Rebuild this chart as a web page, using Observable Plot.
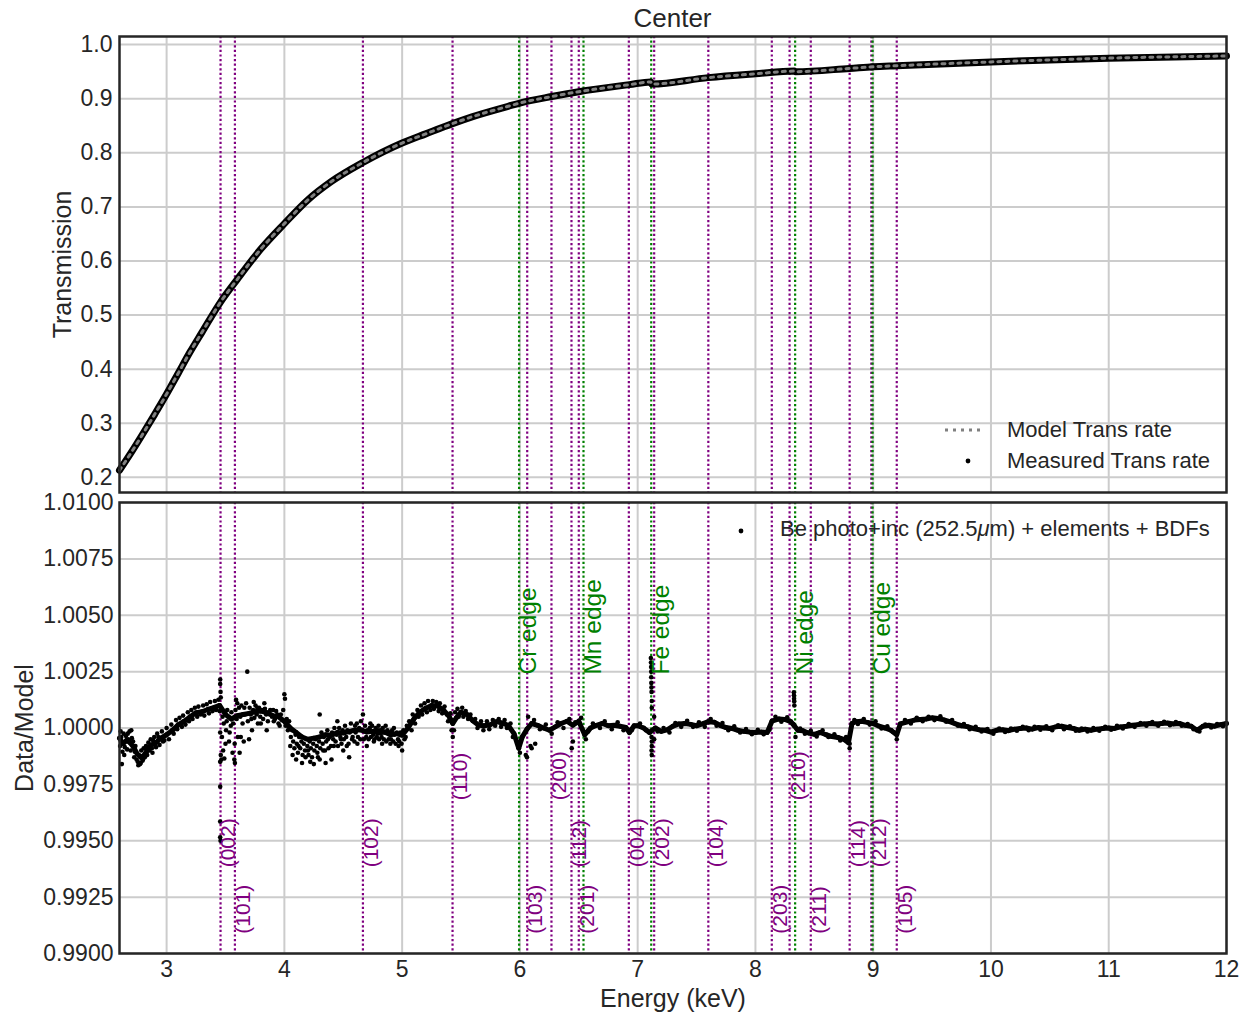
<!DOCTYPE html>
<html>
<head>
<meta charset="utf-8">
<script src="https://cdn.jsdelivr.net/npm/d3@7"></script>
<script src="https://cdn.jsdelivr.net/npm/@observablehq/plot@0.6"></script>
<style>
  html, body { margin: 0; padding: 0; background: #fff; }
  #wrap { position: relative; width: 1251px; height: 1016px; font-family: "Liberation Sans", Arial, sans-serif; color: #262626; }
  #wrap svg { display: block; }
  .ov { position: absolute; white-space: nowrap; line-height: 1; }
</style>
</head>
<body>
<div id="wrap">
  <div id="plots"></div>
  <div class="ov" id="title" style="left:0; width:1345px; top:5px; text-align:center; font-size:26px;">Center</div>
  <svg class="ov" style="left:940px; top:420px;" width="50" height="52">
    <line x1="5" x2="45" y1="10" y2="10" stroke="#808080" stroke-width="3" stroke-dasharray="3,5"></line>
    <circle cx="28" cy="41" r="2.4" fill="black"></circle>
  </svg>
  <div class="ov" style="left:1007px; top:419px; font-size:22px;">Model Trans rate</div>
  <div class="ov" style="left:1007px; top:450px; font-size:22px;">Measured Trans rate</div>
  <svg class="ov" style="left:731px; top:521px;" width="20" height="20">
    <circle cx="10" cy="10" r="2.4" fill="black"></circle>
  </svg>
  <div class="ov" style="left:780px; top:518px; font-size:22px;">Be photo+inc (252.5<i>μ</i>m) + elements + BDFs</div>
</div>
<script>
// ---------- data ----------
const xTicks = [3, 4, 5, 6, 7, 8, 9, 10, 11, 12];
const transTicks = [0.2, 0.3, 0.4, 0.5, 0.6, 0.7, 0.8, 0.9, 1.0];
const ratioTicks = [0.99, 0.9925, 0.995, 0.9975, 1.0, 1.0025, 1.005, 1.0075, 1.01];

// Transmission curve (energy keV, transmission)
const transE = [2.6, 2.7, 2.8, 2.9, 3.0, 3.1, 3.2, 3.3, 3.458, 3.6, 3.8, 4.0, 4.2, 4.4, 4.667, 5.0, 5.2, 5.428, 5.6, 5.9, 6.0, 6.27, 6.5, 6.93, 7.11, 7.12, 7.6, 8.0, 8.33, 8.34, 8.8, 9.0, 9.2, 10, 11, 12];
const transT = [0.213, 0.246, 0.281, 0.317, 0.354, 0.393, 0.432, 0.468, 0.524, 0.566, 0.622, 0.669, 0.713, 0.747, 0.782, 0.818, 0.835, 0.854, 0.867, 0.886, 0.892, 0.904, 0.913, 0.926, 0.931, 0.927, 0.939, 0.946, 0.951, 0.950, 0.956, 0.959, 0.961, 0.968, 0.975, 0.979];

// Data/Model main band
const bandPts = [
[2.60,0.99955],[2.63,0.99930],[2.66,0.99945],[2.69,0.99935],[2.72,0.99915],[2.75,0.99885],[2.78,0.99870],[2.81,0.99880],[2.84,0.99905],[2.87,0.99925],[2.90,0.99930],[2.95,0.99955],[3.00,0.99970],[3.05,0.99990],[3.10,1.00015],[3.15,1.00030],[3.20,1.00050],[3.25,1.00068],[3.30,1.00072],[3.35,1.00082],[3.40,1.00090],[3.45,1.00100],[3.50,1.00060],[3.55,1.00040],[3.60,1.00055],[3.65,1.00060],[3.70,1.00065],[3.75,1.00072],[3.80,1.00075],[3.85,1.00068],[3.90,1.00055],[3.95,1.00050],[4.00,1.00030],[4.05,1.00000],[4.10,0.99980],[4.15,0.99960],[4.20,0.99950],[4.25,0.99955],[4.30,0.99960],[4.35,0.99970],[4.40,0.99968],[4.45,0.99980],[4.50,0.99978],[4.55,0.99985],[4.60,0.99990],[4.65,0.99992],[4.70,0.99982],[4.75,0.99985],[4.80,0.99978],[4.85,0.99982],[4.90,0.99970],[4.95,0.99975],[5.00,0.99968],[5.05,1.00000],[5.10,1.00040],[5.15,1.00070],[5.20,1.00088],[5.25,1.00100],[5.30,1.00098],[5.35,1.00080],[5.40,1.00050],[5.43,1.00020],[5.46,1.00045],[5.50,1.00070],[5.55,1.00060],[5.60,1.00032],[5.65,1.00012],[5.70,1.00010],[5.75,1.00015],[5.80,1.00028],[5.85,1.00022],[5.90,1.00012],[5.95,0.99975],[5.99,0.99910],[6.02,0.99960],[6.06,0.99995],[6.10,1.00020],[6.15,1.00012],[6.20,1.00000],[6.25,0.99990],[6.30,1.00005],[6.35,1.00020],[6.40,1.00030],[6.45,1.00012],[6.50,1.00030],[6.55,0.99970],[6.60,1.00000],[6.65,1.00012],[6.70,1.00020],[6.75,1.00010],[6.80,1.00012],[6.85,1.00008],[6.90,1.00002],[6.93,0.99980],[6.97,1.00010],[7.00,1.00010],[7.05,1.00000],[7.10,0.99980],[7.15,1.00000],[7.20,0.99985],[7.25,0.99992],[7.30,1.00008],[7.35,1.00018],[7.40,1.00020],[7.45,1.00016],[7.50,1.00010],[7.55,1.00018],[7.60,1.00028],[7.65,1.00026],[7.70,1.00012],[7.75,1.00002],[7.80,0.99998],[7.85,0.99990],[7.90,0.99985],[7.95,0.99982],[8.00,0.99980],[8.05,0.99982],[8.10,0.99980],[8.14,1.00030],[8.20,1.00040],[8.25,1.00038],[8.30,1.00028],[8.33,1.00010],[8.36,0.99990],[8.40,0.99988],[8.45,0.99978],[8.50,0.99972],[8.55,0.99980],[8.60,0.99970],[8.65,0.99962],[8.70,0.99958],[8.75,0.99950],[8.79,0.99935],[8.82,1.00020],[8.85,1.00028],[8.90,1.00030],[8.95,1.00025],[9.00,1.00020],[9.05,1.00008],[9.10,1.00000],[9.15,0.99990],[9.20,0.99970],[9.23,1.00018],[9.30,1.00028],[9.35,1.00035],[9.40,1.00038],[9.45,1.00040],[9.50,1.00045],[9.55,1.00042],[9.60,1.00036],[9.65,1.00028],[9.70,1.00018],[9.75,1.00010],[9.80,1.00006],[9.85,0.99998],[9.90,0.99992],[9.95,0.99990],[10.00,0.99982],[10.05,0.99990],[10.10,0.99992],[10.15,0.99988],[10.20,0.99995],[10.25,0.99998],[10.30,1.00000],[10.35,0.99995],[10.40,1.00002],[10.45,1.00000],[10.50,0.99998],[10.55,1.00005],[10.60,1.00008],[10.65,1.00002],[10.70,0.99998],[10.75,0.99990],[10.80,0.99995],[10.85,0.99990],[10.90,0.99995],[10.95,0.99998],[11.00,1.00000],[11.05,0.99998],[11.10,1.00005],[11.15,1.00008],[11.20,1.00012],[11.25,1.00015],[11.30,1.00018],[11.35,1.00020],[11.40,1.00018],[11.45,1.00020],[11.50,1.00022],[11.55,1.00018],[11.60,1.00020],[11.65,1.00012],[11.70,1.00008],[11.75,0.99990],[11.80,1.00008],[11.85,1.00012],[11.90,1.00008],[11.95,1.00015],[12.00,1.00020]
];

// Data/Model scattered points (outliers, edge features)
const scatterPts = [
[2.61,0.99985],[2.62,0.99840],[2.64,0.99880],[2.67,0.99975],[2.70,0.99990],[2.73,0.99895],[2.76,0.99835],[2.78,0.99845],[2.80,0.99860],[2.83,0.99895],[2.88,0.99890],
[3.455,1.00215],[3.455,1.00195],[3.458,1.00160],[3.46,1.00135],[3.455,0.99980],[3.46,0.99880],[3.465,0.99860],[3.455,0.99850],[3.455,0.99740],[3.455,0.99585],[3.455,0.99515],[3.458,0.99500],[3.47,0.99960],[3.48,0.99900],[3.49,0.99865],[3.50,0.99930],[3.51,1.00030],[3.53,0.99940],[3.545,1.00010],[3.56,0.99890],
[3.575,0.99860],[3.58,0.99845],[3.578,0.99930],[3.59,1.00125],[3.60,1.00110],[3.62,0.99890],[3.63,0.99960],[3.66,1.00090],[3.685,1.00250],[3.70,0.99950],[3.72,1.00040],[3.74,1.00115],[3.77,1.00090],[3.80,1.00020],[3.83,1.00110],[3.85,0.99990],[3.88,1.00080],[3.91,1.00030],[3.93,1.00075],[3.96,1.00010],[4.00,1.00150],[4.005,1.00130],[4.02,1.00040],
[4.05,0.99920],[4.07,0.99880],[4.10,0.99860],[4.12,0.99920],[4.15,0.99845],[4.18,0.99870],[4.20,0.99900],[4.22,0.99850],[4.25,0.99840],[4.28,0.99890],[4.30,0.99860],[4.30,1.00060],[4.33,0.99900],[4.35,0.99845],[4.37,0.99950],[4.40,0.99860],[4.42,0.99920],[4.45,1.00030],[4.48,0.99950],[4.50,0.99900],[4.53,0.99920],[4.55,0.99870],[4.58,0.99960],[4.60,1.00010],[4.62,0.99930],[4.65,1.00030],[4.667,1.00060],[4.70,0.99920],[4.73,1.00020],[4.76,0.99940],[4.80,1.00010],[4.83,0.99930],[4.86,1.00010],[4.90,0.99930],[4.93,1.00000],[4.97,0.99920],[5.00,0.99900],[5.02,0.99950],
[5.43,0.99960],[5.42,0.99990],
[5.99,0.99920],[6.00,0.99890],[6.05,0.99880],[6.06,0.99870],[6.07,1.00050],[6.09,0.99920],[6.10,0.99910],[6.13,0.99930],[6.44,0.99910],[6.45,0.99940],[6.56,0.99950],
[7.112,1.00310],[7.113,1.00290],[7.114,1.00270],[7.115,1.00250],[7.115,1.00225],[7.116,1.00200],[7.117,1.00180],[7.118,1.00160],[7.12,1.00120],[7.12,1.00090],[7.118,0.99960],[7.12,0.99940],[7.12,0.99920],[7.118,0.99900],[7.12,0.99880],[7.14,1.00050],[7.14,0.99950],
[8.326,1.00158],[8.327,1.00145],[8.328,1.00130],[8.329,1.00118],[8.33,1.00100],[8.34,0.99960],
[8.80,0.99910],[8.80,0.99930],[9.20,0.99950]
];

// Data/Model dense noise cloud around the band
const cloudPts = [
[2.605,0.99920],[2.615,0.99960],[2.625,0.99895],[2.635,0.99975],[2.645,0.99915],[2.655,0.99965],[2.665,0.99905],[2.675,0.99950],[2.685,0.99985],[2.695,0.99900],[2.705,0.99955],[2.715,0.99940],[2.725,0.99870],[2.735,0.99920],[2.745,0.99860],[2.755,0.99850],[2.765,0.99880],[2.775,0.99840],[2.785,0.99900],[2.795,0.99855],[2.805,0.99910],[2.815,0.99870],[2.825,0.99920],[2.835,0.99880],[2.845,0.99935],[2.855,0.99900],[2.865,0.99950],[2.875,0.99910],[2.885,0.99945],[2.895,0.99960],[2.91,0.99915],[2.93,0.99960],[2.97,0.99940],
[2.92,0.99975],[2.94,0.99925],[2.96,0.99985],[2.98,0.99945],[3.00,1.00000],[3.02,0.99950],[3.04,1.00015],[3.06,0.99975],[3.08,1.00035],[3.09,0.99995],[3.11,1.00045],[3.13,1.00005],[3.14,1.00055],[3.16,1.00015],[3.18,1.00070],[3.19,1.00030],[3.21,1.00080],[3.22,1.00040],[3.24,1.00090],[3.26,1.00050],[3.27,1.00095],[3.29,1.00060],[3.31,1.00100],[3.32,1.00055],[3.34,1.00105],[3.36,1.00065],[3.37,1.00115],[3.39,1.00075],[3.41,1.00120],[3.42,1.00080],[3.44,1.00125],[3.45,1.00075],
[3.465,1.00080],[3.475,1.00050],[3.485,1.00020],[3.495,1.00070],[3.505,0.99990],[3.515,1.00080],[3.525,1.00050],[3.535,0.99980],[3.55,1.00070],[3.565,1.00020],[3.585,1.00080],[3.595,1.00040],[3.605,0.99960],[3.615,1.00090],[3.625,1.00050],[3.635,1.00100],[3.645,1.00020],[3.655,0.99940],[3.665,1.00060],[3.675,1.00110],[3.69,1.00030],[3.705,1.00090],[3.715,1.00060],[3.725,0.99990],[3.735,1.00080],[3.745,1.00045],[3.755,1.00100],[3.765,1.00060],[3.775,1.00020],[3.785,1.00090],[3.795,1.00050],[3.81,1.00080],[3.82,1.00040],[3.835,1.00085],[3.845,1.00060],[3.86,1.00030],[3.87,1.00070],[3.895,1.00050],[3.905,1.00080],[3.92,1.00040],[3.94,1.00060],[3.95,1.00020],[3.97,1.00060],[3.98,1.00035],[3.99,1.00080],[4.01,1.00010],[4.03,0.99990],[4.04,1.00030],
[4.055,0.99960],[4.065,0.99990],[4.075,0.99940],[4.085,0.99910],[4.095,0.99970],[4.105,0.99930],[4.115,0.99890],[4.125,0.99960],[4.135,0.99910],[4.145,0.99940],[4.155,0.99880],[4.165,0.99930],[4.175,0.99900],[4.185,0.99950],[4.195,0.99920],[4.205,0.99880],[4.215,0.99940],[4.225,0.99910],[4.235,0.99870],[4.245,0.99930],[4.255,0.99900],[4.265,0.99950],[4.275,0.99920],[4.285,0.99870],[4.295,0.99940],[4.305,0.99910],[4.315,0.99980],[4.325,0.99930],[4.335,0.99960],[4.345,0.99900],[4.355,0.99940],[4.365,0.99990],[4.375,0.99910],[4.385,0.99960],[4.395,0.99920],[4.405,0.99980],[4.415,0.99950],[4.425,1.00000],[4.435,0.99940],[4.445,0.99970],[4.455,0.99920],[4.465,1.00000],[4.475,0.99960],[4.485,0.99930],[4.495,0.99990],[4.505,0.99950],[4.515,1.00010],[4.525,0.99960],[4.535,0.99990],[4.545,0.99930],[4.555,0.99980],[4.565,1.00020],[4.575,0.99950],[4.585,0.99990],[4.595,0.99940],[4.605,0.99980],[4.615,1.00020],[4.625,0.99960],[4.635,1.00000],[4.645,0.99950],[4.655,0.99990],[4.675,0.99950],[4.685,1.00010],[4.695,0.99960],[4.705,0.99990],[4.715,0.99950],[4.725,1.00000],[4.735,0.99960],[4.745,1.00010],[4.755,0.99970],[4.765,0.99950],[4.775,1.00000],[4.785,0.99960],[4.795,0.99990],[4.805,0.99950],[4.815,0.99990],[4.825,0.99960],[4.835,1.00000],[4.845,0.99950],[4.855,0.99980],[4.865,0.99940],[4.875,0.99990],[4.885,0.99950],[4.895,0.99980],[4.905,0.99950],[4.915,0.99990],[4.925,0.99940],[4.935,0.99970],[4.945,0.99930],[4.955,0.99980],[4.965,0.99950],[4.975,0.99940],[4.985,0.99980],[4.995,0.99930],[5.01,0.99990],[5.03,0.99960],[5.04,1.00010],
[5.06,1.00030],[5.08,0.99990],[5.09,1.00060],[5.11,1.00020],[5.13,1.00080],[5.14,1.00050],[5.16,1.00100],[5.17,1.00060],[5.19,1.00110],[5.21,1.00070],[5.22,1.00120],[5.24,1.00080],[5.26,1.00120],[5.27,1.00085],[5.29,1.00115],[5.31,1.00075],[5.32,1.00110],[5.34,1.00065],[5.36,1.00095],[5.38,1.00060],[5.39,1.00030],[5.41,1.00065],[5.44,0.99990],[5.45,1.00070],[5.47,1.00085],[5.48,1.00050],[5.51,1.00090],[5.52,1.00050],[5.54,1.00075],[5.56,1.00040],[5.58,1.00060],[5.62,1.00040],[5.64,1.00000],[5.67,1.00030],[5.69,0.99990],[5.72,1.00030],[5.74,0.99995],[5.77,1.00035],[5.79,1.00010],[5.82,1.00040],[5.84,1.00005],[5.87,1.00035],[5.89,1.00000],[5.92,1.00020],[5.94,0.99960],
[6.12,1.00035],[6.17,0.99995],[6.22,1.00015],[6.27,0.99975],[6.32,1.00025],[6.37,1.00000],[6.42,1.00040],[6.47,1.00025],[6.52,1.00045],[6.58,0.99985],[6.62,1.00020],[6.68,1.00000],[6.72,1.00030],[6.78,0.99995],[6.83,1.00025],[6.88,0.99990],[6.95,0.99990],[7.02,1.00020],[7.07,0.99990],[7.17,0.99985],[7.22,1.00000],[7.27,0.99980],[7.32,1.00022],[7.37,1.00005],[7.42,1.00032],[7.47,1.00005],[7.52,1.00025],[7.57,1.00005],[7.62,1.00040],[7.67,1.00010],[7.72,1.00022],[7.77,0.99990],[7.82,1.00008],[7.87,0.99980],[7.92,0.99995],[7.97,0.99972],[8.02,0.99992],[8.07,0.99972],[8.12,0.99992],[8.17,1.00050],[8.22,1.00028],[8.27,1.00048],[8.32,1.00018],[8.38,0.99998],[8.42,0.99975],[8.47,0.99988],[8.52,0.99962],[8.57,0.99990],[8.62,0.99960],[8.67,0.99972],[8.72,0.99945],[8.77,0.99960],[8.84,1.00035],[8.87,1.00018],[8.92,1.00040],[8.97,1.00015],[9.02,1.00030],[9.07,0.99998],[9.12,1.00008],[9.17,0.99982],[9.27,1.00035],[9.32,1.00020],[9.37,1.00045],[9.42,1.00030],[9.47,1.00050],[9.52,1.00035],[9.57,1.00052],[9.62,1.00028],[9.67,1.00035],[9.72,1.00010],[9.77,1.00018],[9.82,0.99995],[9.87,1.00005],[9.92,0.99985],[9.97,0.99995],[10.02,0.99975],[10.07,0.99998],[10.12,0.99982],[10.17,0.99998],[10.22,0.99988],[10.27,1.00005],[10.32,0.99990],[10.37,1.00005],[10.42,0.99992],[10.47,1.00008],[10.52,0.99990],[10.57,1.00012],[10.62,0.99995],[10.67,1.00008],[10.72,0.99988],[10.77,0.99998],[10.82,0.99985],[10.87,1.00000],[10.92,0.99988],[10.97,1.00005],[11.02,0.99992],[11.07,1.00010],[11.12,0.99998],[11.17,1.00018],[11.22,1.00005],[11.27,1.00022],[11.32,1.00010],[11.37,1.00026],[11.42,1.00010],[11.47,1.00028],[11.52,1.00012],[11.57,1.00026],[11.62,1.00010],[11.67,1.00018],[11.72,0.99995],[11.77,0.99985],[11.82,1.00015],[11.87,1.00002],[11.92,1.00018],[11.97,1.00008]
];

// Bragg-edge lines (purple) and absorption edges (green)
const braggE = [3.458, 3.58, 4.667, 5.428, 6.062, 6.268, 6.438, 6.50, 6.925, 7.14, 7.60, 8.139, 8.29, 8.47, 8.80, 8.984, 9.20];
const braggLabel = ["(002)", "(101)", "(102)", "(110)", "(103)", "(200)", "(112)", "(201)", "(004)", "(202)", "(104)", "(203)", "(210)", "(211)", "(114)", "(212)", "(105)"];
const braggLabelY = [0.99382, 0.99088, 0.99382, 0.99680, 0.99088, 0.99680, 0.99382, 0.99088, 0.99382, 0.99382, 0.99382, 0.99088, 0.99680, 0.99088, 0.99382, 0.99382, 0.99088];
const edgeE = [5.993, 6.54, 7.115, 8.337, 8.995];
const edgeLabel = ["Cr edge", "Mn edge", "Fe edge", "Ni edge", "Cu edge"];
const edgeLabelY = 1.00237;

// ---------- build ----------
const trans = transE.map((e, i) => ({e, t: transT[i]}));
const band = bandPts.map(([e, r]) => ({e, r}));
const scatter = scatterPts.concat(cloudPts).map(([e, r]) => ({e, r}));
const braggRows = braggE.map((e, i) => ({e, label: braggLabel[i], y: braggLabelY[i]}));
const edgeRows = edgeE.map((e, i) => ({e, label: edgeLabel[i], y: edgeLabelY}));

const FONT = "Liberation Sans, Arial, sans-serif";
const gridStyle = {stroke: "#cccccc", strokeOpacity: 1, strokeWidth: 2};
const dotted = {strokeWidth: 2.2, strokeDasharray: "2.2,2.4"};
const svgStyle = {fontFamily: FONT, fontSize: "23px", color: "#262626", background: "white", overflow: "visible"};

const topPlot = Plot.plot({
  width: 1251, height: 497,
  marginLeft: 119, marginRight: 25, marginTop: 36, marginBottom: 5,
  x: {domain: [2.6, 12], axis: null},
  y: {domain: [0.172, 1.015]},
  style: svgStyle,
  marks: [
    Plot.gridX(xTicks, gridStyle),
    Plot.gridY(transTicks, gridStyle),
    Plot.ruleX(braggE, {stroke: "purple", ...dotted}),
    Plot.ruleX(edgeE, {stroke: "green", ...dotted}),
    Plot.line(trans, {x: "e", y: "t", stroke: "black", strokeWidth: 7, curve: "monotone-x"}),
    Plot.line(trans, {x: "e", y: "t", stroke: "#808080", strokeWidth: 3, strokeDasharray: "3,5", curve: "monotone-x"}),
    Plot.axisY(transTicks, {tickSize: 0, tickPadding: 7, tickFormat: d3.format(".1f"), label: null, fontSize: 23}),
    Plot.frame({stroke: "#262626", strokeWidth: 2.5}),
    Plot.text(["Transmission"], {frameAnchor: "left", textAnchor: "middle", lineAnchor: "middle", dx: -57, rotate: -90, fontSize: 25, fill: "#262626"})
  ]
});

const botPlot = Plot.plot({
  width: 1251, height: 519,
  marginLeft: 119, marginRight: 25, marginTop: 5, marginBottom: 63,
  x: {domain: [2.6, 12]},
  y: {domain: [0.99, 1.01]},
  style: svgStyle,
  marks: [
    Plot.gridX(xTicks, gridStyle),
    Plot.gridY(ratioTicks, gridStyle),
    Plot.ruleX(braggE, {stroke: "purple", ...dotted}),
    Plot.ruleX(edgeE, {stroke: "green", ...dotted}),
    Plot.line(band, {x: "e", y: "r", stroke: "black", strokeWidth: 5, strokeLinejoin: "round"}),
    Plot.dot(band, {x: "e", y: "r", r: 2.4, fill: "black"}),
    Plot.dot(scatter, {x: "e", y: "r", r: 2.3, fill: "black"}),
    Plot.text(braggRows, {x: "e", y: "y", text: "label", rotate: -90, textAnchor: "start", lineAnchor: "top", fill: "purple", fontSize: 21}),
    Plot.text(edgeRows, {x: "e", y: "y", text: "label", rotate: -90, textAnchor: "start", lineAnchor: "top", fill: "green", fontSize: 24.5}),
    Plot.axisY(ratioTicks, {tickSize: 0, tickPadding: 6, tickFormat: d3.format(".4f"), label: null, fontSize: 23}),
    Plot.axisX(xTicks, {tickSize: 0, tickPadding: 7, tickFormat: d => String(d), label: null, fontSize: 23}),
    Plot.frame({stroke: "#262626", strokeWidth: 2.5}),
    Plot.text(["Data/Model"], {frameAnchor: "left", textAnchor: "middle", lineAnchor: "middle", dx: -95, rotate: -90, fontSize: 25, fill: "#262626"}),
    Plot.text(["Energy (keV)"], {frameAnchor: "bottom", textAnchor: "middle", lineAnchor: "middle", dy: 45, fontSize: 25, fill: "#262626"})
  ]
});

const host = document.getElementById("plots");
host.appendChild(topPlot);
host.appendChild(botPlot);
</script>
</body>
</html>
